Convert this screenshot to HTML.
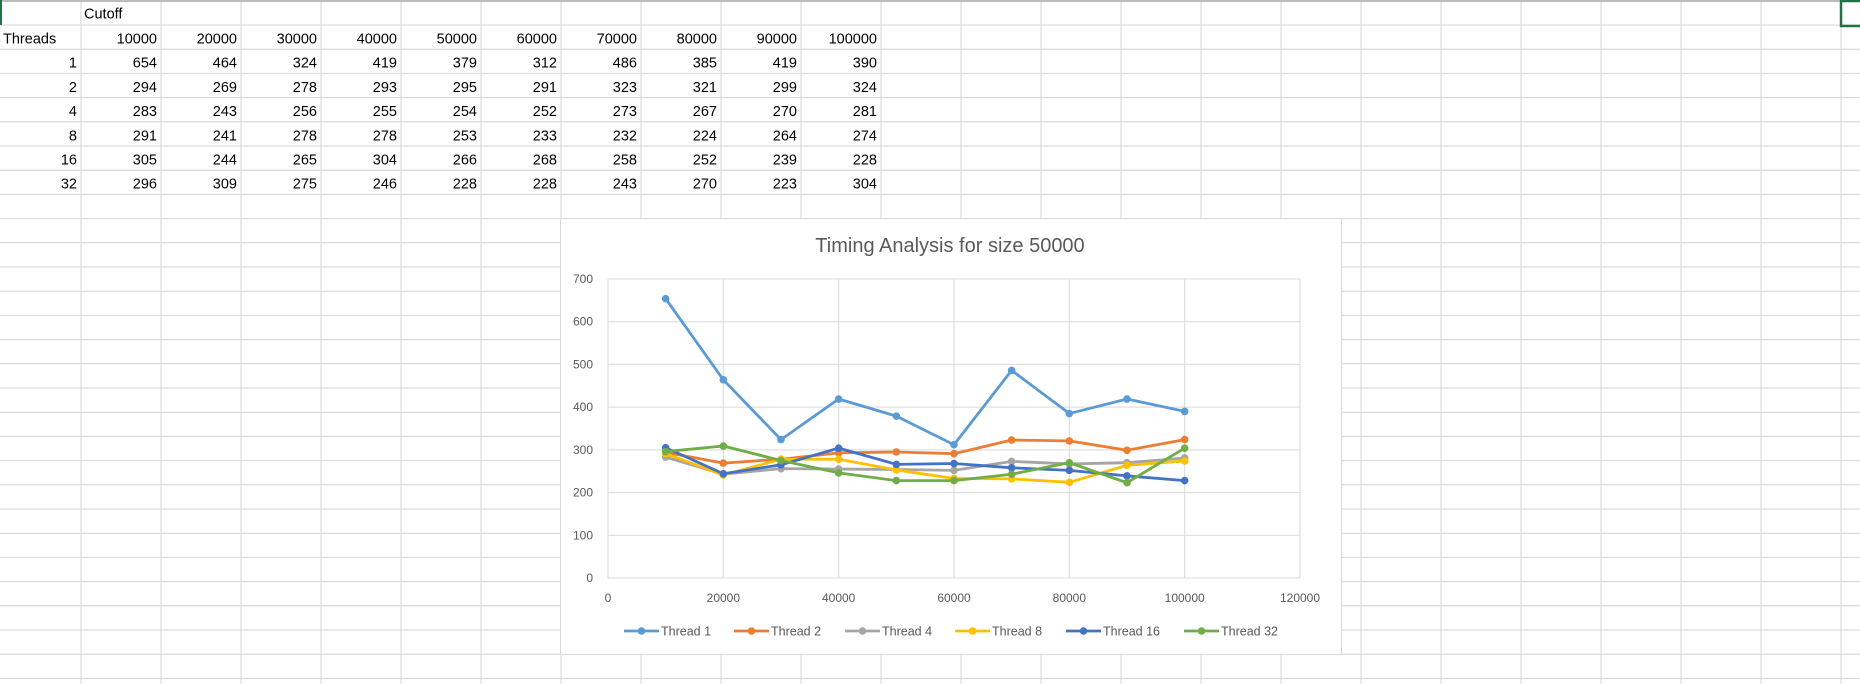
<!DOCTYPE html>
<html><head><meta charset="utf-8"><style>
html,body{margin:0;padding:0;background:#fff;}
body{width:1860px;height:684px;overflow:hidden;position:relative;font-family:"Liberation Sans",sans-serif;}
#sheet{position:absolute;left:0;top:0;}
</style></head><body>
<svg id="sheet" width="1860" height="684" xmlns="http://www.w3.org/2000/svg">
<g id="grid"></g>
<g id="cells" font-family="Liberation Sans, sans-serif" font-size="14.5" fill="#000"></g>
<rect x="1841" y="1" width="22" height="25" fill="none" stroke="#217346" stroke-width="2.5"/>
<g id="chart"></g>
</svg>
<script>
const cutoffs=[10000,20000,30000,40000,50000,60000,70000,80000,90000,100000];
const threadCounts=[1,2,4,8,16,32];
const t1=[654,464,324,419,379,312,486,385,419,390];
const t2=[294,269,278,293,295,291,323,321,299,324];
const t4=[283,243,256,255,254,252,273,267,270,281];
const t8=[291,241,278,278,253,233,232,224,264,274];
const t16=[305,244,265,304,266,268,258,252,239,228];
const t32=[296,309,275,246,228,228,243,270,223,304];
const seriesNames=["Thread 1","Thread 2","Thread 4","Thread 8","Thread 16","Thread 32"];
const yTicks=[0,100,200,300,400,500,600,700];
const xTicks=[0,20000,40000,60000,80000,100000,120000];
const allSeries=[t1,t2,t4,t8,t16,t32];
const colors=["#5b9bd5","#ed7d31","#a5a5a5","#ffc000","#4472c4","#70ad47"];
const NS="http://www.w3.org/2000/svg";
function mk(tag,attrs,parent,text){const e=document.createElementNS(NS,tag);for(const k in attrs)e.setAttribute(k,attrs[k]);if(text!==undefined)e.textContent=text;parent.appendChild(e);return e;}
// grid
const grid=document.getElementById('grid');
const colX=[];for(let x=81;x<1860;x+=80)colX.push(x);
const rowY=[];for(let k=0;k<30;k++){const y=25+24.2*k;if(y<684)rowY.push(y);}
colX.forEach(x=>{mk('line',{x1:x,y1:0,x2:x,y2:684,stroke:'#d4d4d4','stroke-width':1},grid);});
rowY.forEach(y=>{mk('line',{x1:0,y1:y,x2:1860,y2:y,stroke:'#d4d4d4','stroke-width':1},grid);});
mk('line',{x1:0,y1:1,x2:1860,y2:1,stroke:'#a6a6a6','stroke-width':1.5},grid);
mk('line',{x1:1,y1:0,x2:1,y2:25,stroke:'#217346','stroke-width':2},grid);
// cells
const cells=document.getElementById('cells');
function rowBase(r){return (r===0?0:rowY[r-1])+18.5;}
let t=mk('text',{x:84,y:rowBase(0)},cells,'Cutoff');

t=mk('text',{x:3,y:rowBase(1)},cells,'Threads');

cutoffs.forEach((c,i)=>{const e=mk('text',{x:81+80*(i+1)-4,y:rowBase(1),'text-anchor':'end'},cells,String(c));
});
threadCounts.forEach((th,r)=>{
 const e=mk('text',{x:77,y:rowBase(r+2),'text-anchor':'end'},cells,String(th));
 
 allSeries[r].forEach((v,i)=>{const c=mk('text',{x:81+80*(i+1)-4,y:rowBase(r+2),'text-anchor':'end'},cells,String(v));
 });
});
// chart
const ch=document.getElementById('chart');
const bg=mk('rect',{x:560.5,y:218.5,width:781,height:436,fill:'#fff',stroke:'#d9d9d9','stroke-width':1},ch);

const PL=608,PR=1300,PT=279,PB=578;
const xs=v=>PL+(v-0)/(120000)*(PR-PL);
const ys=v=>PB-(v/700)*(PB-PT);
const tt=mk('text',{x:950,y:252,'text-anchor':'middle','font-size':20,fill:'#595959'},ch,'Timing Analysis for size 50000');

yTicks.forEach(v=>{const l=mk('line',{x1:PL,x2:PR,y1:ys(v),y2:ys(v),stroke:'#d9d9d9','stroke-width':1},ch);
 
 const e=mk('text',{x:593,y:ys(v)+4,'text-anchor':'end','font-size':12,fill:'#595959'},ch,String(v));
 });
xTicks.forEach(v=>{const l=mk('line',{x1:xs(v),x2:xs(v),y1:PT,y2:PB,stroke:'#d9d9d9','stroke-width':1},ch);
 
 const e=mk('text',{x:xs(v),y:602,'text-anchor':'middle','font-size':12,fill:'#595959'},ch,String(v));
 });
allSeries.forEach((s,si)=>{
 const g=mk('g',{},ch);
 
 const pts=s.map((v,i)=>xs(cutoffs[i])+','+ys(v)).join(' ');
 mk('polyline',{points:pts,fill:'none',stroke:colors[si],'stroke-width':2.8,'stroke-linejoin':'round'},g);
 s.forEach((v,i)=>{const c=mk('circle',{cx:xs(cutoffs[i]),cy:ys(v),r:3.8,fill:colors[si]},g);
 });
});
const lgX=[624,734,845,955,1066,1184];
seriesNames.forEach((n,i)=>{
 const g=mk('g',{},ch);
 
 const x=lgX[i];
 mk('line',{x1:x,x2:x+35,y1:631,y2:631,stroke:colors[i],'stroke-width':2.8},g);
 mk('circle',{cx:x+17.5,cy:631,r:3.8,fill:colors[i]},g);
 mk('text',{x:x+37,y:635.5,'font-size':12.5,fill:'#595959'},g,n);
});
</script>
</body></html>
